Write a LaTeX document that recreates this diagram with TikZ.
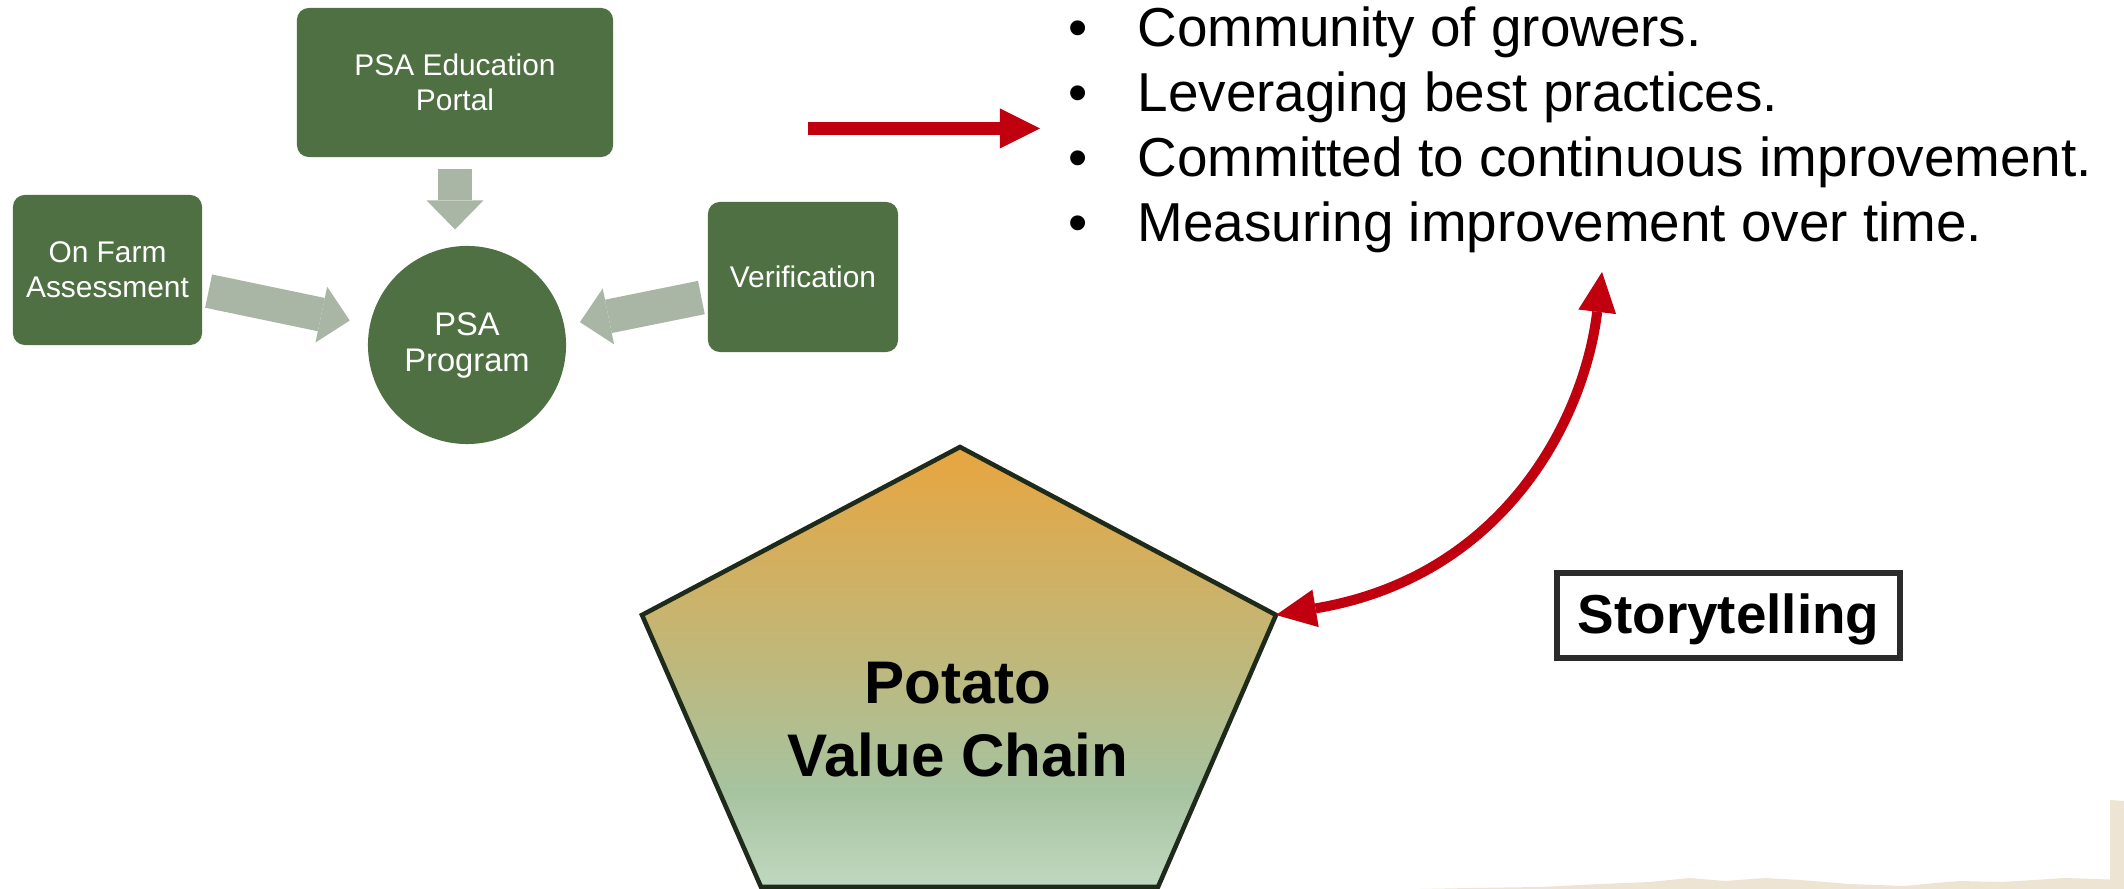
\documentclass[tikz,border=0pt]{standalone}
\usepackage{fontspec}
\setmainfont{Liberation Sans}
\usetikzlibrary{arrows.meta,calc}
\definecolor{boxgreen}{HTML}{4F7043}
\definecolor{arrowgray}{HTML}{A9B6A6}
\definecolor{redarrow}{HTML}{C0000E}
\definecolor{pentline}{HTML}{1F2B1A}
\definecolor{beige}{HTML}{EEE4D3}
\definecolor{storyline}{HTML}{2B2B2B}
\definecolor{pOrange}{HTML}{E8A53F}
\definecolor{pTan}{HTML}{C8B46E}
\definecolor{pGreen}{HTML}{A6C3A0}
\definecolor{pLight}{HTML}{C0D8C0}
\pgfdeclareverticalshading{potshade}{100bp}{color(0bp)=(pLight); color(25bp)=(pLight); color(36bp)=(pGreen); color(56bp)=(pTan); color(75bp)=(pOrange); color(100bp)=(pOrange)}
\tikzset{
  gbox/.style={rectangle, rounded corners=3.4pt, fill=boxgreen, text=white, inner sep=0pt, align=center, font=\fontsize{8.5pt}{9.96pt}\selectfont},
  gcirc/.style={circle, fill=boxgreen, text=white, inner sep=0pt, align=center, font=\fontsize{9.3pt}{10.24pt}\selectfont},
  grayarr/.style={draw=arrowgray, line width=9.67pt, -{Triangle[length=8.25pt, width=16.2pt, line width=0pt]}},
  redstraight/.style={draw=redarrow, line width=3.7pt, -{Triangle[length=11.4pt, width=11.4pt, line width=0pt]}},
  redcurve/.style={draw=redarrow, line width=2.85pt, {Triangle[length=11.4pt, width=10.8pt, line width=0pt]}-{Triangle[length=11.4pt, width=10.8pt, line width=0pt]}},
  listtxt/.style={inner sep=0pt, font=\fontsize{15.6pt}{18.5pt}\selectfont},
  storybox/.style={draw=storyline, line width=1.7pt, inner sep=0pt, text depth=0.1em, font=\bfseries\fontsize{15.6pt}{18pt}\selectfont},
  pottext/.style={inner sep=0pt, align=center, font=\bfseries\fontsize{17.1pt}{20.8pt}\selectfont}
}
\begin{document}
\begin{tikzpicture}[x=0.01cm, y=-0.01cm]
\useasboundingbox (0,0) rectangle (2124,889);
\fill[white] (0,0) rectangle (2124,889);

% beige decoration at bottom right
\fill[beige] (1420,889) -- (1470,888) -- (1540,887) -- (1600,884) -- (1650,882) -- (1690,878) -- (1725,881) -- (1765,878) -- (1800,880) -- (1850,884) -- (1905,886) -- (1935,883) -- (1960,881) -- (2000,882) -- (2035,880) -- (2065,878) -- (2095,879) -- (2124,880) -- (2124,889) -- cycle;
\fill[beige] (2110,800) -- (2124,801) -- (2124,889) -- (2110,889) -- cycle;

% green nodes
\node[gbox, minimum width=3.16cm, minimum height=1.49cm] (edu) at (455,82.5) {PSA Education\\Portal};
\node[gbox, minimum width=1.89cm, minimum height=1.50cm] (farm) at (107.5,270) {On Farm\\Assessment};
\node[gbox, minimum width=1.90cm, minimum height=1.50cm] (ver) at (803,277) {Verification};
\node[gcirc, minimum size=1.98cm] (psa) at (467,345) {PSA\\Program};

% gray block arrows
\draw[grayarr, shorten <=3.1pt, shorten >=4.5pt] (edu.south) -- (edu.south |- psa.north);
\draw[grayarr, shorten <=1.7pt, shorten >=5.7pt] (farm) -- (psa);
\draw[grayarr, shorten <=1.7pt, shorten >=4.4pt] (ver) -- (psa);

% red straight arrow
\coordinate (rs) at (808,128.5);
\coordinate (re) at (1040,128.5);
\draw[redstraight] (rs) -- (re);

% bullet list
\node[listtxt, anchor=base] (b1) at (1078,47) {\textbullet};
\node[listtxt, anchor=base west] (t1) at (1137,47) {Community of growers.};
\node[listtxt, anchor=base] (b2) at (1078,112) {\textbullet};
\node[listtxt, anchor=base west] (t2) at (1137,112) {Leveraging best practices.};
\node[listtxt, anchor=base] (b3) at (1078,177) {\textbullet};
\node[listtxt, anchor=base west] (t3) at (1137,177) {Committed to continuous improvement.};
\node[listtxt, anchor=base] (b4) at (1078,242) {\textbullet};
\node[listtxt, anchor=base west] (t4) at (1137,242) {Measuring improvement over time.};

% pentagon
\coordinate (p1) at (960,447);
\coordinate (p2) at (1276,615);
\coordinate (p3) at (1158,887);
\coordinate (p4) at (761,887);
\coordinate (p5) at (642,615);
\shadedraw[shading=potshade, draw=pentline, line width=1.3pt, line join=miter] (p1) -- (p2) -- (p3) -- (p4) -- (p5) -- cycle;
\node[pottext] (potato) at (958,720) {Potato\\Value Chain};

% storytelling
\node[storybox, minimum width=3.43cm, minimum height=0.85cm] (story) at (1728.5,615.5) {Storytelling};

% curved double arrow
\coordinate (ct) at (1602,272);
\draw[redcurve] (p2) .. controls (1503,577) and (1584,421) .. (ct);
\end{tikzpicture}
\end{document}
